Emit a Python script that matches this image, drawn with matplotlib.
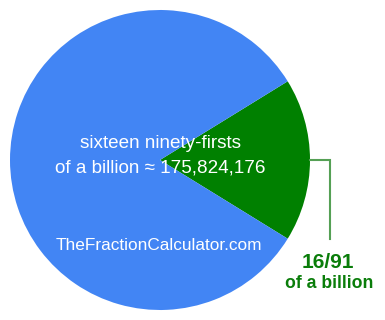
import matplotlib.pyplot as plt

# fraction 16/91 of a billion
numerator = 16
denominator = 91
labels = ['16/91', 'rest']
values = [numerator, denominator - numerator]
colors = ['#008000', '#4285f4']

title_lines = ['sixteen ninety-firsts', 'of a billion \u2248 175,824,176']
site = 'TheFractionCalculator.com'

plt.rcParams['font.family'] = ['Liberation Sans', 'DejaVu Sans']

fig = plt.figure(figsize=(3.85, 3.2), dpi=100)
ax = fig.add_axes([0, 0, 1, 1])

start = -(values[0] / sum(values) * 360) / 2
ax.pie(values, colors=colors, startangle=start, counterclock=True,
       center=(160, 160), radius=150, frame=True,
       wedgeprops=dict(linewidth=0))

ax.set_xlim(0, 385)
ax.set_ylim(0, 320)
ax.set_aspect('equal')
ax.set_axis_off()

# leader line to the label
ax.plot([310, 330, 330], [160, 160, 81], color='#55a055', lw=1.5,
        solid_joinstyle='miter')

ax.text(160, 176, title_lines[0], color='white', fontsize=13.6,
        ha='center', va='center')
ax.text(160, 152, title_lines[1], color='white', fontsize=13.6,
        ha='center', va='center')
ax.text(159, 74, site, color='white', fontsize=12.4,
        ha='center', va='center')

ax.text(328, 57, labels[0], color='#0a7d0a', fontsize=15,
        fontweight='bold', ha='center', va='center')
ax.text(329, 36, 'of a billion', color='#0a7d0a', fontsize=12.7,
        fontweight='bold', ha='center', va='center')

fig.savefig('out.png', dpi=100)
